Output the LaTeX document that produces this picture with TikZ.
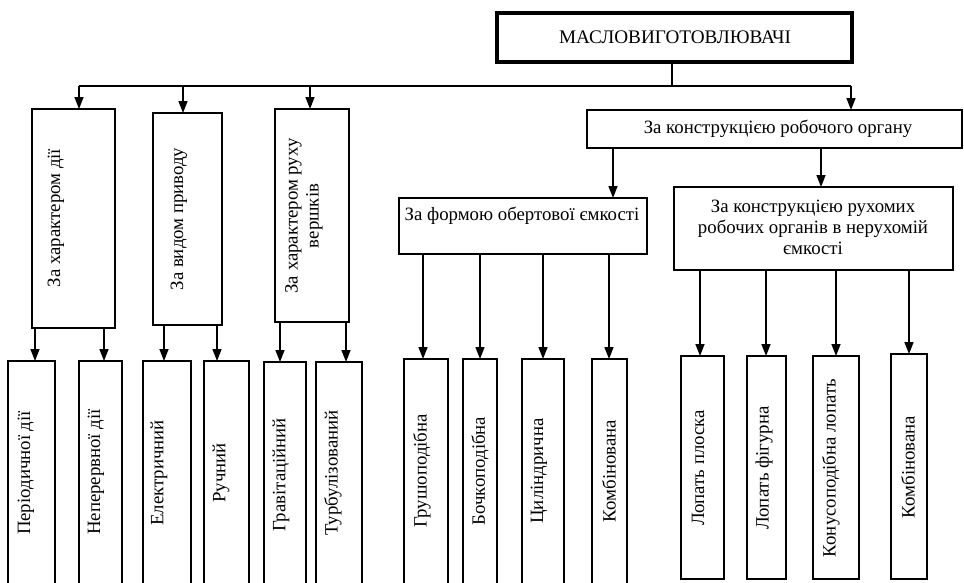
\documentclass[tikz,border=0pt]{standalone}
\usepackage{fontspec}
\setmainfont{Liberation Serif}
\usetikzlibrary{arrows.meta}
\tikzset{
  box/.style={draw, line width=1.7pt, inner sep=0pt, outer sep=0pt},
  topbox/.style={draw, line width=3.4pt, inner sep=0pt, outer sep=0pt},
  lbl/.style={inner sep=0pt, font=\fontsize{18.8}{21}\selectfont, align=center},
  vlbl/.style={lbl, rotate=90},
  arr/.style={line width=1.6pt, -{Triangle[length=12pt,width=9pt]}},
  ln/.style={line width=1.6pt}
}
\newcommand\rbox[6][box]{\node[#1, minimum width={#5-#3}, minimum height={#6-#4}] (#2) at ({(#3+#5)/2},{(#4+#6)/2}) {};}
\begin{document}
\begin{tikzpicture}[x=1pt,y=-1pt]
\useasboundingbox (0,0) rectangle (964,582);
% boxes
\rbox[topbox]{top}{497}{13}{852}{62}
\rbox{R}{587}{110}{962}{148}
\rbox{A}{32}{109}{115}{328}
\rbox{B}{153}{113}{222}{325}
\rbox{C}{275}{109}{349}{322}
\rbox{F}{399}{198}{647}{254}
\rbox{G}{674}{187}{953}{270}
\rbox{a}{8}{361}{55}{586}
\rbox{b}{79}{361}{122}{586}
\rbox{c}{143}{361}{191}{586}
\rbox{d}{204}{361}{249}{586}
\rbox{e}{264}{362}{306}{586}
\rbox{f}{316}{362}{362}{586}
\rbox{g}{404}{359}{448}{586}
\rbox{h}{463}{359}{497}{586}
\rbox{i}{522}{359}{564}{586}
\rbox{j}{592}{359}{627}{586}
\rbox{k}{681}{356}{724}{579}
\rbox{l}{747}{356}{786}{579}
\rbox{m}{813}{356}{859}{579}
\rbox{n}{891}{354}{927}{579}
% labels
\node[lbl, font=\fontsize{19.2}{21}\selectfont] (ttop) at (675,37) {МАСЛОВИГОТОВЛЮВАЧІ};
\node[lbl] (tR) at (778,129) {За конструкцією робочого органу};
\node[lbl] (tF) at (522,216) {За формою обертової ємкості};
\node[lbl] (tG) at (813,227) {За конструкцією рухомих\\робочих органів в нерухомій\\ємкості};
\node[vlbl] (tA) at (56,218) {За характером дії};
\node[vlbl] (tB) at (179,219) {За видом приводу};
\node[vlbl] (tC) at (304,216) {За характером руху\\вершків};
\node[vlbl] (ta) at (26,473) {Періодичної дії};
\node[vlbl] (tb) at (96,472) {Неперервної дії};
\node[vlbl] (tc) at (159,473) {Електричний};
\node[vlbl] (td) at (221,473) {Ручний};
\node[vlbl] (te) at (281,475) {Гравітаційний};
\node[vlbl] (tf) at (333,473) {Турбулізований};
\node[vlbl] (tg) at (422,471) {Грушоподібна};
\node[vlbl] (th) at (480,471) {Бочкоподібна};
\node[vlbl] (ti) at (539,471) {Циліндрична};
\node[vlbl] (tj) at (609,471) {Комбінована};
\node[vlbl] (tk) at (698,468) {Лопать плоска};
\node[vlbl] (tl) at (764,468) {Лопать фігурна};
\node[vlbl] (tm) at (831,468) {Конусоподібна лопать};
\node[vlbl] (tn) at (908,467) {Комбінована};
% top connectors
\coordinate (bus) at (672,86);
\draw[ln] (672,0 |- top.south) -- (bus);
\draw[ln] (79,86) -- (851,86);
\draw[arr] (79,86) -- (79,0 |- A.north);
\draw[arr] (183,86) -- (183,0 |- B.north);
\draw[arr] (310,86) -- (310,0 |- C.north);
\draw[arr] (851,86) -- (851,0 |- R.north);
% R
\draw[arr] (613,0 |- R.south) -- (613,0 |- F.north);
\draw[arr] (821,0 |- R.south) -- (821,0 |- G.north);
% A B C
\draw[arr] (35,0 |- A.south) -- (35,0 |- a.north);
\draw[arr] (104,0 |- A.south) -- (104,0 |- b.north);
\draw[arr] (164,0 |- B.south) -- (164,0 |- c.north);
\draw[arr] (217,0 |- B.south) -- (217,0 |- d.north);
\draw[arr] (280,0 |- C.south) -- (280,0 |- e.north);
\draw[arr] (346,0 |- C.south) -- (346,0 |- f.north);
% F
\draw[arr] (423,0 |- F.south) -- (423,0 |- g.north);
\draw[arr] (480,0 |- F.south) -- (480,0 |- h.north);
\draw[arr] (543,0 |- F.south) -- (543,0 |- i.north);
\draw[arr] (609,0 |- F.south) -- (609,0 |- j.north);
% G
\draw[arr] (700,0 |- G.south) -- (700,0 |- k.north);
\draw[arr] (766,0 |- G.south) -- (766,0 |- l.north);
\draw[arr] (836,0 |- G.south) -- (836,0 |- m.north);
\draw[arr] (909,0 |- G.south) -- (909,0 |- n.north);
\end{tikzpicture}
\end{document}
